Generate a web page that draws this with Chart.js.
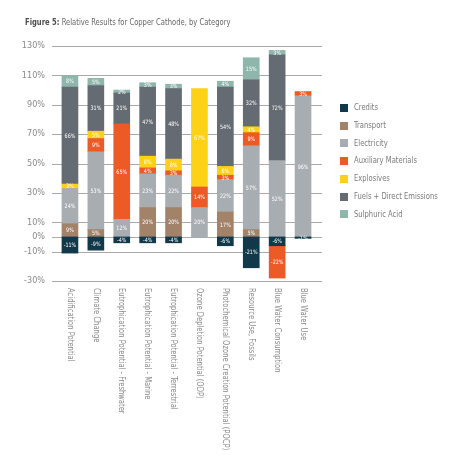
<!DOCTYPE html>
<html>
<head>
<meta charset="utf-8">
<script src="https://cdn.jsdelivr.net/npm/chart.js@4.4.1/dist/chart.umd.min.js"></script>
<style>
html,body{margin:0;padding:0;background:#fff;}
#wrap{width:474px;height:474px;}
</style>
</head>
<body>
<div id="wrap"><canvas id="c" width="474" height="474"></canvas></div>
<script>
const categories = [
  "Acidification Potential",
  "Climate Change",
  "Eutrophication Potential - Freshwater",
  "Eutrophication Potential - Marine",
  "Eutrophication Potential - Terrestrial",
  "Ozone Depletion Potential (ODP)",
  "Photochemical Ozone Creation Potential (POCP)",
  "Resource Use, Fossils",
  "Blue Water Consumption",
  "Blue Water Use"
];
const credits     = [-11, -9, -4, -4, -4, null, -6, -21, -6, -1];
const transport   = [9, 5, null, 20, 20, null, 17, 5, null, null];
const electricity = [24, 53, 12, 23, 22, 20, 22, 57, 52, 96];
const auxiliary   = [null, 9, 65, 4, 3, 14, 3, 9, -22, 3];
const explosives  = [3, 5, null, 8, 8, 67, 6, 4, null, null];
const fuels       = [66, 31, 21, 47, 48, null, 54, 32, 72, null];
const sulphuric   = [8, 5, 2, 3, 3, null, 4, 15, 3, null];
const yTicks = [130, 110, 90, 70, 50, 30, 10, 0, -10, -30];
const seriesNames = ["Credits", "Transport", "Electricity", "Auxiliary Materials", "Explosives", "Fuels + Direct Emissions", "Sulphuric Acid"];
const titleBold = "Figure 5:";
const titleRest = " Relative Results for Copper Cathode, by Category";

const FONT = "'Liberation Sans Narrow', 'DejaVu Sans Condensed', 'Liberation Sans', sans-serif";
const SX = 0.84;
const colors = ["#12394a", "#a3826a", "#a8adb2", "#ec5a26", "#fcd116", "#656b72", "#8fb6ab"];
const seriesData = [credits, transport, electricity, auxiliary, explosives, fuels, sulphuric];

function narrowText(ctx, text, x, y, sx) {
  ctx.save();
  ctx.translate(x, y);
  ctx.scale(sx, 1);
  ctx.fillText(text, 0, 0);
  ctx.restore();
}

const customDraw = {
  id: 'customDraw',
  beforeDatasetsDraw(chart) {
    const ctx = chart.ctx, ys = chart.scales.y, a = chart.chartArea;
    ctx.save();
    ctx.strokeStyle = '#a9a9a9';
    ctx.lineWidth = 1;
    yTicks.forEach(v => {
      const y = Math.round(ys.getPixelForValue(v)) + 0.5;
      ctx.beginPath();
      ctx.moveTo(a.left - 5, y);
      ctx.lineTo(a.right + 6, y);
      ctx.stroke();
    });
    ctx.restore();
  },
  afterDatasetsDraw(chart) {
    const ctx = chart.ctx;
    ctx.save();
    ctx.fillStyle = '#ffffff';
    ctx.font = "6px " + FONT;
    ctx.textAlign = 'center';
    ctx.textBaseline = 'middle';
    chart.data.datasets.forEach((ds, i) => {
      const meta = chart.getDatasetMeta(i);
      meta.data.forEach((el, j) => {
        const v = ds.data[j];
        if (v === null || v === undefined) return;
        narrowText(ctx, v + '%', el.x, (el.y + el.base) / 2 + 0.5, 0.9);
      });
    });
    ctx.restore();
  },
  afterDraw(chart) {
    const ctx = chart.ctx, xs = chart.scales.x, a = chart.chartArea;
    ctx.save();
    // title
    ctx.textBaseline = 'middle';
    ctx.textAlign = 'left';
    ctx.font = "bold 9px " + FONT;
    ctx.fillStyle = '#4d4d4d';
    narrowText(ctx, titleBold, 25, 23, SX);
    const w = ctx.measureText(titleBold).width * SX;
    ctx.font = "9px " + FONT;
    ctx.fillStyle = '#666666';
    narrowText(ctx, titleRest, 25 + w, 23, SX);
    // x labels (rotated, reading downward)
    ctx.font = "9px " + FONT;
    ctx.fillStyle = '#8a8a8a';
    categories.forEach((c, i) => {
      const x = xs.getPixelForTick(i);
      ctx.save();
      ctx.translate(x, a.bottom + 7);
      ctx.rotate(Math.PI / 2);
      ctx.scale(SX, 1);
      ctx.textAlign = 'left';
      ctx.textBaseline = 'middle';
      ctx.fillText(c, 0, 0);
      ctx.restore();
    });
    // legend
    chart.data.datasets.forEach((ds, i) => {
      const y = 108 + i * 17.7;
      ctx.fillStyle = ds.backgroundColor;
      ctx.fillRect(340, Math.round(y - 4), 8, 8);
      ctx.fillStyle = '#7a7a7a';
      ctx.font = "9px " + FONT;
      ctx.textAlign = 'left';
      ctx.textBaseline = 'middle';
      narrowText(ctx, ds.label, 354, y, SX);
    });
    ctx.restore();
  }
};

new Chart(document.getElementById('c'), {
  type: 'bar',
  data: {
    labels: categories,
    datasets: seriesNames.map((n, i) => ({
      label: n,
      data: seriesData[i],
      backgroundColor: colors[i],
      borderWidth: 0,
      barThickness: 16
    }))
  },
  options: {
    responsive: false,
    animation: false,
    devicePixelRatio: 1,
    layout: { padding: { top: 46, right: 158, bottom: 0, left: 0 } },
    plugins: { legend: { display: false }, title: { display: false }, tooltip: { enabled: false } },
    scales: {
      x: {
        stacked: true,
        grid: { display: false },
        border: { display: false },
        ticks: { display: false },
        afterFit(s) { s.height = 193; }
      },
      y: {
        stacked: true,
        min: -30,
        max: 130,
        grid: { display: false, drawTicks: false },
        border: { display: false },
        afterBuildTicks(s) { s.ticks = yTicks.map(v => ({ value: v })); },
        afterFit(s) { s.width = 57; },
        ticks: {
          padding: 12,
          color: '#8a8a8a',
          font: { family: FONT, size: 9 },
          callback: v => v + '%'
        }
      }
    }
  },
  plugins: [customDraw]
});
</script>
</body>
</html>
